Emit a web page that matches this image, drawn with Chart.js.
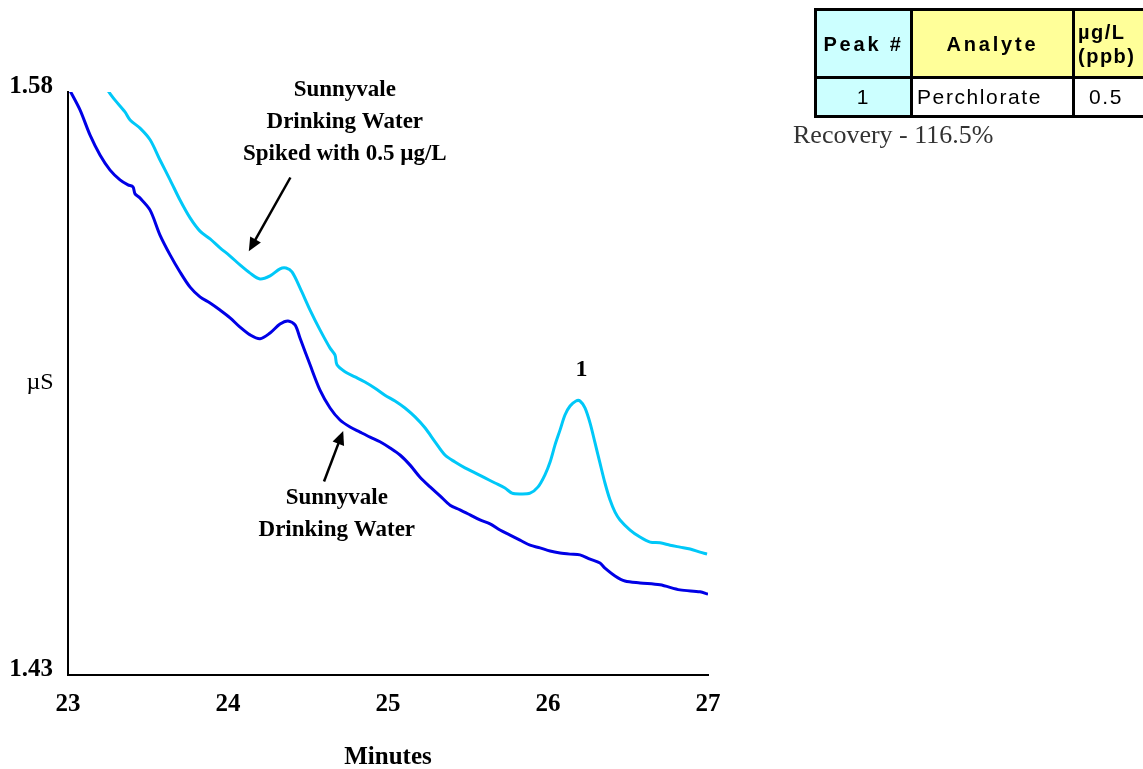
<!DOCTYPE html>
<html>
<head>
<meta charset="utf-8">
<script src="https://cdn.jsdelivr.net/npm/chart.js@4.4.1/dist/chart.umd.min.js"></script>
<style>
  html, body { margin: 0; padding: 0; background: #fff; overflow: hidden; }
  #wrap { position: relative; width: 1143px; height: 769px; overflow: hidden; }
  #chart { position: absolute; left: 0; top: 0; }
  table.peaks {
    position: absolute; left: 814px; top: 8px; width: 351px; table-layout: fixed;
    border-collapse: collapse; font-family: Arial, "Liberation Sans", sans-serif;
  }
  table.peaks td { border: 3px solid #000; padding: 0; text-align: center; color: #000; white-space: nowrap; overflow: hidden; }
  table.peaks tr.head td { height: 65px; font-weight: bold; font-size: 20px; letter-spacing: 2.8px; line-height: 24px; }
  table.peaks tr.body td { height: 36px; font-size: 21px; letter-spacing: 1.6px; }
  .cyan { background: #ccffff; }
  .yellow { background: #ffff99; }
  #recovery {
    position: absolute; left: 793px; top: 120px;
    font-family: "Liberation Serif", "Times New Roman", serif; font-size: 26px; color: #333;
  }
</style>
</head>
<body>
<div id="wrap">
  <canvas id="chart" width="1143" height="769"></canvas>
  <table class="peaks">
    <colgroup><col style="width:96px"><col style="width:162px"><col style="width:93px"></colgroup>
    <tr class="head">
      <td class="cyan">Peak #</td>
      <td class="yellow">Analyte</td>
      <td class="yellow" style="text-align:left;padding-left:3px;letter-spacing:1.5px">µg/L<br>(ppb)</td>
    </tr>
    <tr class="body">
      <td class="cyan">1</td>
      <td style="text-align:left;padding-left:4px">Perchlorate</td>
      <td style="text-align:left;padding-left:14px">0.5</td>
    </tr>
  </table>
  <div id="recovery">Recovery - 116.5%</div>
</div>
<script>
// Sunnyvale drinking water (unspiked), retention time in minutes / conductivity in µS
const blankTimes = [23.013, 23.075, 23.138, 23.2, 23.263, 23.325, 23.375, 23.406, 23.419, 23.45,
  23.513, 23.575, 23.638, 23.7, 23.763, 23.825, 23.888, 23.95, 24.013, 24.075,
  24.138, 24.2, 24.263, 24.325, 24.375, 24.419, 24.45, 24.513, 24.575, 24.638,
  24.7, 24.763, 24.825, 24.888, 24.95, 25.013, 25.075, 25.138, 25.2, 25.263,
  25.325, 25.388, 25.45, 25.513, 25.575, 25.638, 25.7, 25.763, 25.825, 25.888,
  25.95, 26.013, 26.075, 26.138, 26.2, 26.263, 26.325, 26.356, 26.419, 26.481,
  26.575, 26.7, 26.825, 26.95, 27.0];
const blankValues = [1.5803, 1.5754, 1.5689, 1.5638, 1.5599, 1.5574, 1.5561, 1.5556, 1.5538, 1.5527,
  1.5496, 1.5432, 1.5381, 1.5337, 1.5298, 1.5273, 1.5257, 1.5239, 1.5219, 1.5195,
  1.5175, 1.5165, 1.5180, 1.5203, 1.5211, 1.5201, 1.5167, 1.5098, 1.5033, 1.4987,
  1.4956, 1.4938, 1.4925, 1.4912, 1.4900, 1.4884, 1.4866, 1.4840, 1.4809, 1.4784,
  1.4761, 1.4737, 1.4725, 1.4712, 1.4699, 1.4689, 1.4673, 1.4660, 1.4647, 1.4634,
  1.4627, 1.4619, 1.4614, 1.4611, 1.4609, 1.4598, 1.4588, 1.4575, 1.4555, 1.4542,
  1.4537, 1.4532, 1.4519, 1.4514, 1.4508];

// Same water spiked with 0.5 µg/L perchlorate
const spikedTimes = [23.25, 23.294, 23.356, 23.388, 23.45, 23.513, 23.575, 23.638, 23.7, 23.763,
  23.825, 23.888, 23.95, 24.013, 24.075, 24.138, 24.2, 24.263, 24.325, 24.363,
  24.4, 24.45, 24.513, 24.575, 24.638, 24.669, 24.681, 24.731, 24.794, 24.856,
  24.919, 24.981, 25.044, 25.106, 25.169, 25.231, 25.294, 25.356, 25.419, 25.481,
  25.544, 25.606, 25.669, 25.731, 25.775, 25.825, 25.888, 25.938, 25.981, 26.013,
  26.044, 26.075, 26.106, 26.138, 26.175, 26.2, 26.231, 26.263, 26.294, 26.325,
  26.356, 26.388, 26.419, 26.45, 26.513, 26.575, 26.638, 26.7, 26.763, 26.825,
  26.888, 26.95, 26.994];
const spikedValues = [1.5803, 1.5779, 1.5749, 1.5728, 1.5707, 1.5677, 1.5625, 1.5574, 1.5522, 1.5476,
  1.5442, 1.5422, 1.5399, 1.5378, 1.5355, 1.5334, 1.5319, 1.5327, 1.5345, 1.5347,
  1.5337, 1.5296, 1.5239, 1.5188, 1.5141, 1.5123, 1.5098, 1.5080, 1.5067, 1.5054,
  1.5038, 1.5020, 1.5005, 1.4987, 1.4964, 1.4936, 1.4900, 1.4866, 1.4848, 1.4833,
  1.4820, 1.4807, 1.4794, 1.4781, 1.4768, 1.4766, 1.4768, 1.4784, 1.4815, 1.4848,
  1.4892, 1.4930, 1.4969, 1.4992, 1.5005, 1.5005, 1.4987, 1.4948, 1.4897, 1.4845,
  1.4794, 1.4750, 1.4719, 1.4699, 1.4673, 1.4655, 1.4642, 1.4640, 1.4634, 1.4629,
  1.4624, 1.4616, 1.4611];

const xTicks = [23, 24, 25, 26, 27];
const yTicks = [1.43, 1.58];

const serif = '"Liberation Serif", "Times New Roman", serif';

const toPoints = (xs, ys) => xs.map((x, i) => ({ x: x, y: ys[i] }));

// Text labels and arrows drawn on top of the traces
const annotations = {
  id: 'annotations',
  afterDraw(chart) {
    const ctx = chart.ctx;
    const x = chart.scales.x, y = chart.scales.y;
    const px = v => x.getPixelForValue(v);
    const py = v => y.getPixelForValue(v);

    const text = (str, cx, cy, font) => {
      ctx.font = font;
      ctx.fillStyle = '#000';
      ctx.textAlign = 'center';
      ctx.textBaseline = 'middle';
      ctx.fillText(str, cx, cy);
    };
    const arrow = (x1, y1, x2, y2) => {
      const ang = Math.atan2(y2 - y1, x2 - x1);
      const head = 15;
      ctx.strokeStyle = '#000';
      ctx.fillStyle = '#000';
      ctx.lineWidth = 2.5;
      ctx.beginPath();
      ctx.moveTo(x1, y1);
      ctx.lineTo(x2 - Math.cos(ang) * head * 0.8, y2 - Math.sin(ang) * head * 0.8);
      ctx.stroke();
      ctx.beginPath();
      ctx.moveTo(x2, y2);
      ctx.lineTo(x2 - head * Math.cos(ang - 0.42), y2 - head * Math.sin(ang - 0.42));
      ctx.lineTo(x2 - head * Math.cos(ang + 0.42), y2 - head * Math.sin(ang + 0.42));
      ctx.closePath();
      ctx.fill();
    };

    ctx.save();
    const bold = 'bold 23px ' + serif;
    // spiked sample label
    text('Sunnyvale', px(24.73), py(1.5805), bold);
    text('Drinking Water', px(24.73), py(1.5723), bold);
    text('Spiked with 0.5 µg/L', px(24.73), py(1.5641), bold);
    arrow(px(24.39), py(1.5580), px(24.13), py(1.5390));
    // unspiked sample label
    text('Sunnyvale', px(24.68), py(1.4754), bold);
    text('Drinking Water', px(24.68), py(1.4672), bold);
    arrow(px(24.6), py(1.4798), px(24.72), py(1.4928));
    // peak number
    text('1', px(26.21), py(1.5085), 'bold 24px ' + serif);
    // y axis unit
    text('µS', 40, py(1.5052), '24px ' + serif);
    ctx.restore();
  }
};

new Chart(document.getElementById('chart'), {
  type: 'line',
  data: {
    datasets: [
      {
        label: 'Sunnyvale Drinking Water',
        data: toPoints(blankTimes, blankValues),
        borderColor: '#0000e6',
        borderWidth: 3,
        pointRadius: 0,
        tension: 0.3,
        fill: false
      },
      {
        label: 'Sunnyvale Drinking Water Spiked with 0.5 µg/L',
        data: toPoints(spikedTimes, spikedValues),
        borderColor: '#00c8f8',
        borderWidth: 3,
        pointRadius: 0,
        tension: 0.3,
        fill: false
      }
    ]
  },
  options: {
    responsive: false,
    animation: false,
    layout: { padding: { top: 92, right: 435, left: 0, bottom: 0 } },
    plugins: {
      legend: { display: false },
      tooltip: { enabled: false }
    },
    scales: {
      x: {
        type: 'linear',
        min: 23,
        max: 27,
        afterBuildTicks: axis => { axis.ticks = xTicks.map(v => ({ value: v })); },
        afterFit: axis => { axis.height = 94; },
        grid: { display: false, drawTicks: false },
        border: { color: '#000', width: 2 },
        ticks: {
          color: '#000',
          padding: 15,
          maxRotation: 0,
          font: { family: serif, size: 25, weight: 'bold' }
        },
        title: {
          display: true,
          text: 'Minutes',
          color: '#000',
          padding: { top: 0, bottom: -4 },
          font: { family: serif, size: 25, weight: 'bold' }
        }
      },
      y: {
        type: 'linear',
        min: 1.43,
        max: 1.58,
        afterBuildTicks: axis => { axis.ticks = yTicks.map(v => ({ value: v })); },
        afterFit: axis => { axis.width = 68; },
        grid: { display: false, drawTicks: false },
        border: { color: '#000', width: 2 },
        ticks: {
          color: '#000',
          padding: 15,
          labelOffset: -5,
          callback: v => v.toFixed(2),
          font: { family: serif, size: 25, weight: 'bold' }
        }
      }
    }
  },
  plugins: [annotations]
});
</script>
</body>
</html>
